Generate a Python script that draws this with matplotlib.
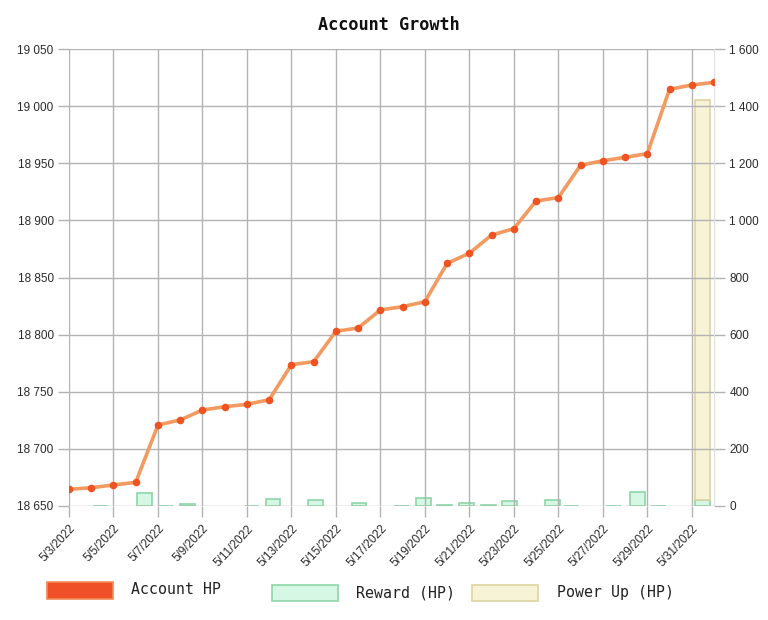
import matplotlib
matplotlib.use("Agg")
import matplotlib.pyplot as plt
from matplotlib.patches import Rectangle
from datetime import datetime

# ---- data ----
dates = ["5/3/2022", "5/4/2022", "5/5/2022", "5/6/2022", "5/7/2022", "5/8/2022",
         "5/9/2022", "5/10/2022", "5/11/2022", "5/12/2022", "5/13/2022", "5/14/2022",
         "5/15/2022", "5/16/2022", "5/17/2022", "5/18/2022", "5/19/2022", "5/20/2022",
         "5/21/2022", "5/22/2022", "5/23/2022", "5/24/2022", "5/25/2022", "5/26/2022",
         "5/27/2022", "5/28/2022", "5/29/2022", "5/30/2022", "5/31/2022", "6/1/2022"]
account_hp = [18664.6, 18666.0, 18668.4, 18670.7, 18720.9, 18725.3, 18734.0, 18736.9,
              18739.0, 18743.0, 18773.7, 18776.3, 18802.9, 18805.8, 18821.6, 18824.5,
              18828.8, 18862.4, 18871.2, 18887.2, 18892.7, 18917.0, 18919.9, 18948.2,
              18952.2, 18955.2, 18958.4, 19014.7, 19018.5, 19020.8]

reward_times = ["2022-05-04 09:50", "2022-05-06 09:22", "2022-05-07 07:55", "2022-05-08 07:26",
                "2022-05-11 05:31", "2022-05-12 04:05", "2022-05-14 01:55", "2022-05-16 00:58",
                "2022-05-17 23:02", "2022-05-18 22:05", "2022-05-19 21:36", "2022-05-20 20:53",
                "2022-05-21 20:38", "2022-05-22 19:12", "2022-05-24 17:31", "2022-05-25 14:24",
                "2022-05-27 12:00", "2022-05-28 13:55", "2022-05-29 12:00", "2022-05-31 12:00"]
reward_hp = [1, 44, 1, 6, 1, 24, 21, 10, 1, 28, 5, 10, 2, 19, 22, 1, 1, 49, 1, 22]

powerup_times = ["2022-05-31 12:00"]
powerup_hp = [1400]

left_ticks = [18650, 18700, 18750, 18800, 18850, 18900, 18950, 19000, 19050]
right_ticks = [0, 200, 400, 600, 800, 1000, 1200, 1400, 1600]

# ---- helpers ----
t0 = datetime.strptime(dates[0], "%m/%d/%Y")
def day_pos(ts):
    return (datetime.strptime(ts, "%Y-%m-%d %H:%M") - t0).total_seconds() / 86400.0

x_line = list(range(len(dates)))
x_reward = [day_pos(t) for t in reward_times]
x_power = [day_pos(t) for t in powerup_times]
reward_at = {round(x, 4): v for x, v in zip(x_reward, reward_hp)}
power_bottom = [reward_at.get(round(x, 4), 0) for x in x_power]

def fmt(v):
    return f"{int(v):,}".replace(",", " ")

W, H = 768, 620
fig = plt.figure(figsize=(W / 100, H / 100), dpi=100)
L, R, B, T = 69, 714, 506, 49
ax = fig.add_axes([L / W, 1 - B / H, (R - L) / W, (B - T) / H])
ax2 = ax.twinx()
ax.set_zorder(ax2.get_zorder() + 1)
ax.patch.set_visible(False)

grid_c = "#b3b3b3"
tick_font = dict(family="Liberation Sans", size=8.5)
tick_color = "#2a2a2a"

# bars (right axis)
bw = 0.67
ax2.bar(x_reward, reward_hp, width=bw, color="#d6f7e3", edgecolor="#8dd6a8", linewidth=1.2, zorder=2)
ax2.bar(x_power, powerup_hp, width=bw, bottom=power_bottom, color="#f7f3d7",
        edgecolor="#ddd4a0", linewidth=1.2, zorder=2)
ax2.set_ylim(0, 1600)
ax2.set_yticks(right_ticks)
ax2.set_yticklabels([fmt(v) for v in right_ticks], fontdict=tick_font, color=tick_color)

# line (left axis)
ax.plot(x_line, account_hp, color="#f29a5f", linewidth=2.6, zorder=3, solid_capstyle="round")
ax.scatter(x_line, account_hp, s=30, color="#ef5322", zorder=4, linewidths=0)
ax.set_ylim(18650, 19050)
ax.set_yticks(left_ticks)
ax.set_yticklabels([fmt(v) for v in left_ticks], fontdict=tick_font, color=tick_color)
ax.set_xlim(0, len(dates) - 1)
xt = list(range(0, len(dates), 2))
ax.set_xticks(xt)
ax.set_xticklabels([dates[i] for i in xt], rotation=47, ha="right", rotation_mode="anchor",
                   fontdict=tick_font, color=tick_color)

ax.grid(True, color=grid_c, linewidth=1.0, zorder=0)
ax.set_axisbelow(True)
for a in (ax, ax2):
    for s in a.spines.values():
        s.set_visible(False)
    a.tick_params(length=8, width=1, color=grid_c, pad=3)
ax.tick_params(axis="x", pad=4)
ax2.spines["right"].set_visible(True)
ax2.spines["right"].set_color("#e0e0e0")

fig.text(389 / W, 1 - 25 / H, "Account Growth", ha="center", va="center",
         family="DejaVu Sans Mono", fontweight="bold", fontsize=12.2, color="#111111")

# legend
leg_font = dict(family="DejaVu Sans Mono", fontsize=10.7, color="#222222")
def legend_item(x0, y0, w, h, fc, ec, label, tx, ty):
    fig.patches.append(Rectangle((x0 / W, 1 - (y0 + h) / H), w / W, h / H,
                                 transform=fig.transFigure, facecolor=fc, edgecolor=ec, linewidth=1.2))
    fig.text(tx / W, 1 - ty / H, label, ha="left", va="center", **leg_font)

legend_item(47, 582, 66, 17, "#f05028", "#f28a58", "Account HP", 131, 590)
legend_item(272, 585, 66, 16, "#d6f7e3", "#8dd6a8", "Reward (HP)", 356, 593)
legend_item(472, 585, 66, 16, "#f7f3d7", "#ddd4a0", "Power Up (HP)", 557, 593)

fig.savefig("out.png", dpi=100)
